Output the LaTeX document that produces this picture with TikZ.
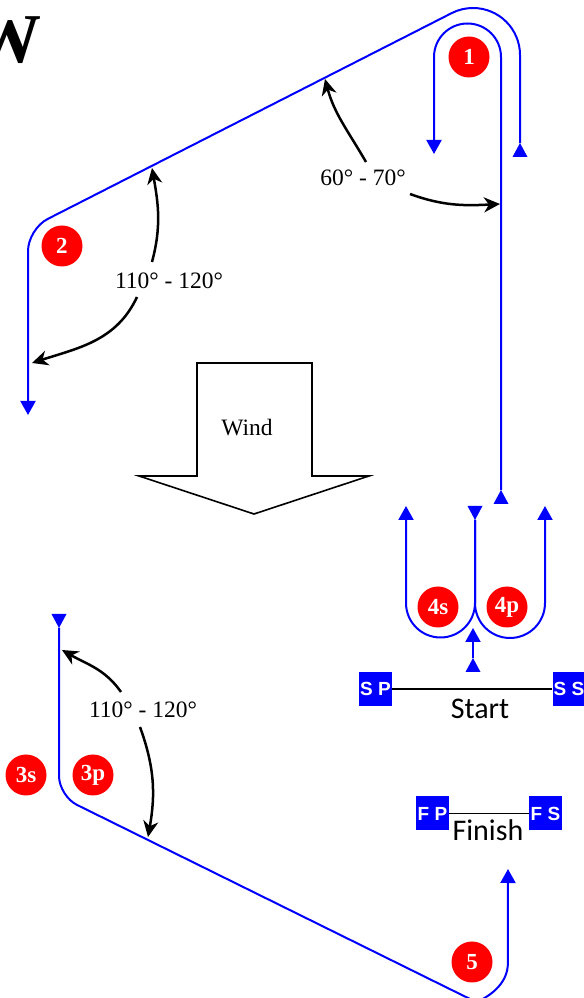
\documentclass[tikz,border=0pt]{standalone}
\usepackage{fontspec}
\setmainfont{Liberation Serif}
\newfontfamily\calfont{Carlito}
\newfontfamily\arialfont{Liberation Sans}
\usepackage{tikz}
\usetikzlibrary{arrows.meta}

\begin{document}
\begin{tikzpicture}[x=0.5pt,y=0.5pt,
  leg/.style={draw=blue,line width=1pt,-{Triangle[length=7pt,width=7.5pt]}},
  ang/.style={draw,line width=1.25pt,-{Stealth[length=8pt,width=7.5pt,inset=2.5pt]}},
  num/.style={circle,fill=red,text=white,inner sep=0pt,minimum size=20.5pt,
               font=\bfseries\fontsize{11.5}{13}\selectfont},
  buoy/.style={fill=blue,text=white,inner sep=0pt,minimum width=16.5pt,minimum height=17pt,
               font=\arialfont\bfseries\fontsize{9.5}{10}\selectfont},
  lbl/.style={font=\fontsize{11.75}{14}\selectfont,inner sep=1pt},
  line/.style={font=\calfont\fontsize{15}{17}\selectfont,inner sep=0pt}]
  \useasboundingbox (0,0) rectangle (584,998);
  \clip (0,0) rectangle (584,998);

  \node[font=\bfseries\fontsize{35}{38}\selectfont,anchor=base east,inner sep=0pt] (title) at (42,935) {W};

  % start points of the legs
  \coordinate (o1) at (520,855);
  \coordinate (i1) at (501,508);
  \coordinate (t1) at (59,370);
  \coordinate (f1) at (475,478);
  \coordinate (s1) at (473,340);
  \foreach \c in {o1,i1,s1}
    \fill[blue] (\c) -- ++(-7.5,-14) -- ++(15,0) -- cycle;
  \foreach \c in {t1,f1}
    \fill[blue] (\c) -- ++(-7.5,14) -- ++(15,0) -- cycle;

  % legs
  \draw[leg] (i1) -- (501,941) arc[start angle=0,end angle=180,radius=33.5] -- (434,844);
  \draw[leg] (o1) -- (520,943) arc[start angle=0,end angle=117,radius=47]
    [rounded corners=11pt] -- (28,769) -- (28,583);
  \draw[leg] (t1) [rounded corners=10pt] -- (59,202) -- (459,4.4) [sharp corners]
    arc[start angle=-116,end angle=0,radius=34] -- (508,129);
  \draw[leg] (f1) -- (475,395) arc[start angle=0,end angle=-180,radius=34.5] -- (406,492);
  \draw[leg] (f1) -- (475,395) arc[start angle=180,end angle=360,radius=35] -- (545,492);
  \draw[leg] (s1) -- (473,370);

  \foreach \n/\x/\y in {1/469/941,2/62/752,3s/26/223,3p/93/223,4s/438/391,4p/507/391,5/472/36}
    \node[num] (n\n) at (\x,\y) {\n};

  % angles
  \node[lbl] (a1) at (363,820) {60° - 70°};
  \draw[ang] (366,836) to[out=120,in=-75] (325,919);
  \draw[ang] (410,804) to[out=-20,in=183] (500,794);
  \node[lbl] (a2) at (169,717) {110° - 120°};
  \draw[ang] (152,736) to[out=75,in=-80] (152,830);
  \draw[ang] (137,701) to[out=-115,in=18] (32,635);
  \node[lbl] (a3) at (143,288) {110° - 120°};
  \draw[ang] (121,306) to[out=125,in=-30] (62,348);
  \draw[ang] (140,271) to[out=-70,in=80] (148,161);

  % wind
  \draw[line width=0.8pt] (197,635) -- (312,635) -- (312,522) -- (369,522) -- (254,484)
    -- (139,522) -- (197,522) -- cycle;
  \node[lbl] (wind) at (247,570) {Wind};

  % start and finish lines
  \node[buoy] (sp) at (375.5,309) {S P};
  \node[buoy] (ss) at (569,309) {S S};
  \draw[line width=0.9pt] (sp) -- (ss);
  \node[line] (start) at (480,289.5) {Start};
  \node[buoy] (fp) at (432.5,184.5) {F P};
  \node[buoy] (fs) at (545.5,184.5) {F S};
  \draw[line width=0.9pt] (fp) -- (fs);
  \node[line] (finish) at (488,167.5) {Finish};
\end{tikzpicture}
\end{document}
